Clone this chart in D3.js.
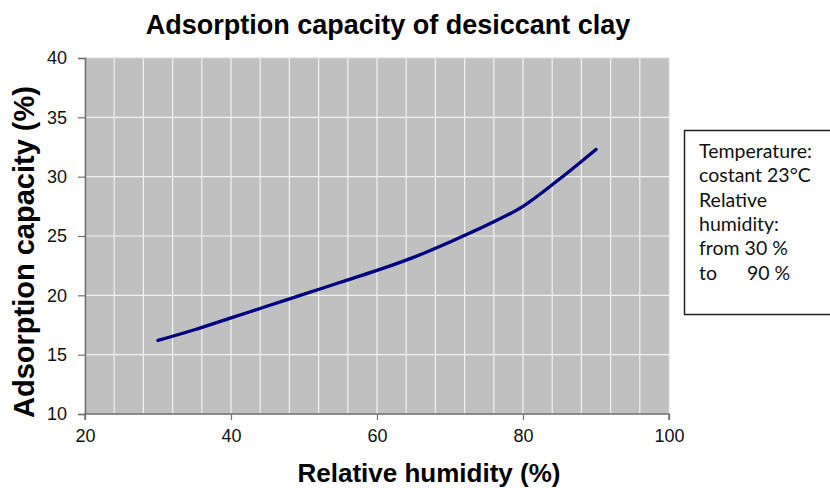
<!DOCTYPE html>
<html>
<head>
<meta charset="utf-8">
<script src="https://cdn.jsdelivr.net/npm/d3@7"></script>
<style>
  body { margin: 0; background: #fff; }
  svg { display: block; }
</style>
</head>
<body>
<script>
// values
const humidity = [30, 35, 40, 45, 50, 55, 60, 65, 70, 75, 80, 85, 90];
const capacity = [16.2, 17.1, 18.1, 19.1, 20.1, 21.1, 22.1, 23.2, 24.5, 25.9, 27.5, 29.8, 32.3];
const xTicks = [20, 40, 60, 80, 100];
const yTicks = [10, 15, 20, 25, 30, 35, 40];
const xGrid = d3.range(20, 101, 4);
const noteLines = ["Temperature:", "costant 23°C", "Relative", "humidity:", "from 30 %", "to      90 %"];

const width = 830;
const height = 488;
const margin = {left: 85, right: 161, top: 58, bottom: 74};

const svg = d3.select("body")
    .append("svg")
    .attr("width", width)
    .attr("height", height);

const x = d3.scaleLinear()
    .domain([20, 100])
    .range([margin.left, width - margin.right]);

const y = d3.scaleLinear()
    .domain([10, 40])
    .range([height - margin.bottom, margin.top]);

// plot area
svg.append("rect")
    .attr("x", x(20))
    .attr("y", y(40))
    .attr("width", x(100) - x(20))
    .attr("height", y(10) - y(40))
    .attr("fill", "#c0c0c0")
    .attr("stroke", "#d8d8d8")
    .attr("stroke-width", 1);

// grid
svg.append("g")
    .selectAll("line")
    .data(xGrid.slice(1, -1))
    .join("line")
    .attr("x1", d => x(d)).attr("x2", d => x(d))
    .attr("y1", y(40)).attr("y2", y(10))
    .attr("stroke", "#f2f2f2")
    .attr("stroke-width", 1.2);

svg.append("g")
    .selectAll("line")
    .data(yTicks.slice(1, -1))
    .join("line")
    .attr("x1", x(20)).attr("x2", x(100))
    .attr("y1", d => y(d)).attr("y2", d => y(d))
    .attr("stroke", "#f2f2f2")
    .attr("stroke-width", 1.2);

// axes
const xAxis = d3.axisBottom(x).tickValues(xTicks).tickSize(6).tickPadding(9);
const yAxis = d3.axisLeft(y).tickValues(yTicks).tickSize(7).tickPadding(11);

const gx = svg.append("g")
    .attr("transform", `translate(0, ${y(10)})`)
    .call(xAxis);

const gy = svg.append("g")
    .attr("transform", `translate(${x(20)}, 0)`)
    .call(yAxis);

[gx, gy].forEach(g => {
  g.select(".domain").attr("stroke", "#707070").attr("stroke-width", 1.5);
  g.selectAll(".tick line").attr("stroke", "#707070").attr("stroke-width", 1.2);
  g.selectAll(".tick text")
      .attr("font-family", "Liberation Sans, Arial, sans-serif")
      .attr("font-size", 18)
      .attr("fill", "#111");
});
gx.select(".domain").attr("d", `M${x(20)},6V0H${x(100)}V6`);

// line
const line = d3.line()
    .x((d, i) => x(humidity[i]))
    .y(d => y(d))
    .curve(d3.curveMonotoneX);

svg.append("path")
    .datum(capacity)
    .attr("d", line)
    .attr("fill", "none")
    .attr("stroke", "#000080")
    .attr("stroke-width", 3.3)
    .attr("stroke-linecap", "round");

// titles
svg.append("text")
    .attr("x", 388)
    .attr("y", 34)
    .attr("text-anchor", "middle")
    .attr("font-family", "Liberation Sans, Arial, sans-serif")
    .attr("font-weight", "bold")
    .attr("font-size", 27)
    .text("Adsorption capacity of desiccant clay");

svg.append("text")
    .attr("x", 429)
    .attr("y", 482)
    .attr("text-anchor", "middle")
    .attr("font-family", "Liberation Sans, Arial, sans-serif")
    .attr("font-weight", "bold")
    .attr("font-size", 26)
    .text("Relative humidity (%)");

svg.append("text")
    .attr("transform", `translate(34, 252) rotate(-90)`)
    .attr("text-anchor", "middle")
    .attr("font-family", "Liberation Sans, Arial, sans-serif")
    .attr("font-weight", "bold")
    .attr("font-size", 29)
    .text("Adsorption capacity (%)");

// note box
svg.append("rect")
    .attr("x", 684.5)
    .attr("y", 130.5)
    .attr("width", 160)
    .attr("height", 184)
    .attr("fill", "#fff")
    .attr("stroke", "#222")
    .attr("stroke-width", 1.5);

svg.append("g")
    .selectAll("text")
    .data(noteLines)
    .join("text")
    .attr("x", 699)
    .attr("y", (d, i) => 158 + i * 24.3)
    .attr("font-family", "Lato, 'Open Sans', sans-serif")
    .attr("font-size", 19.5)
    .attr("fill", "#111")
    .style("white-space", "pre")
    .text(d => d);
</script>
</body>
</html>
